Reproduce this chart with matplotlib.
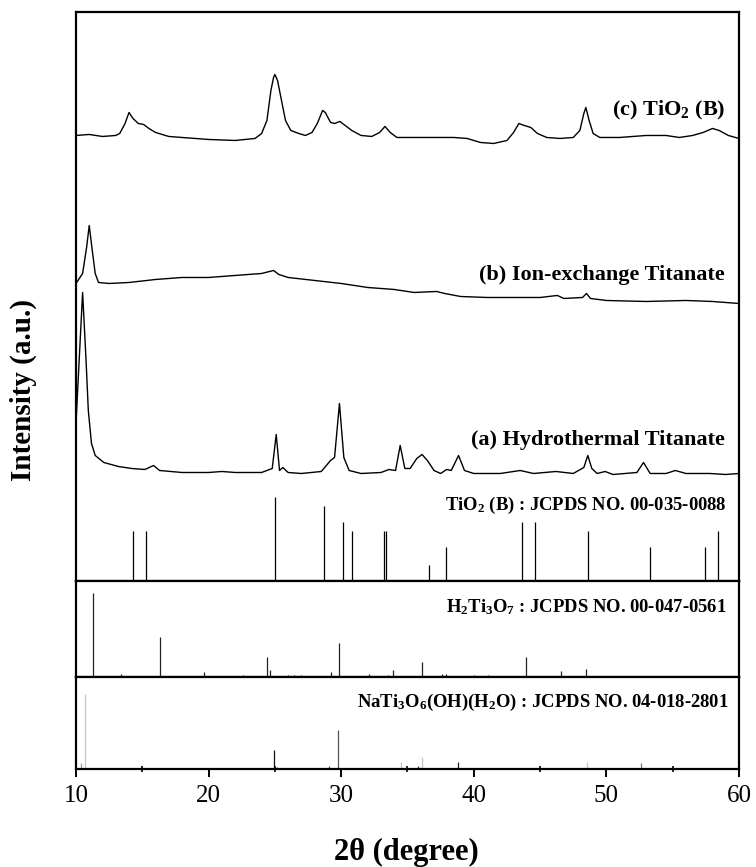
import matplotlib
matplotlib.use("Agg")
import matplotlib.pyplot as plt

plt.rcParams['font.family'] = ['Liberation Serif', 'DejaVu Serif']
plt.rcParams['mathtext.fontset'] = 'custom'
plt.rcParams['mathtext.rm'] = 'Liberation Serif:bold'
plt.rcParams['mathtext.bf'] = 'Liberation Serif:bold'
plt.rcParams['mathtext.default'] = 'bf'

# measured curves: 2theta and intensity (offset already included, a.u.)
tio2_b_x = [10.0, 11.0, 12.0, 13.0, 13.3, 13.7, 14.0, 14.3, 14.7, 15.1, 15.5, 16.0, 17.0, 18.0,
            20.0, 22.0, 23.5, 24.0, 24.4, 24.7, 24.9, 25.0, 25.2, 25.5, 25.8, 26.2, 26.8, 27.3,
            27.8, 28.2, 28.6, 28.8, 29.2, 29.5, 29.9, 30.3, 30.8, 31.5, 32.3, 32.9, 33.3, 33.7,
            34.2, 35.5, 37.0, 38.5, 39.5, 40.5, 41.5, 42.5, 43.0, 43.4, 43.8, 44.3, 44.8, 45.5,
            46.5, 47.5, 48.0, 48.3, 48.45, 48.7, 49.0, 49.5, 51.0, 53.0, 54.5, 55.5, 56.5, 57.3,
            58.0, 58.5, 59.2, 60.0]
tio2_b_y = [446, 447, 445, 446, 448, 458, 469, 463, 458, 457, 453, 449, 445, 444,
            442, 441, 443, 448, 461, 491, 504, 507, 501, 481, 461, 451, 448, 446,
            449, 458, 471, 469, 459, 458, 460, 456, 451, 446, 445, 449, 455, 449,
            444, 444, 444, 444, 443, 439, 438, 441, 449, 458, 456, 454, 448, 444,
            443, 444, 451, 468, 474, 461, 448, 444, 444, 446, 446, 444, 446, 449,
            453, 451, 446, 443]

ion_x = [10.0, 10.5, 10.8, 11.0, 11.2, 11.45, 11.7, 12.5, 14.0, 16.0, 18.0, 20.0, 22.0, 24.0,
         24.9, 25.3, 26.0, 28.0, 30.0, 32.0, 34.0, 35.5, 37.2, 37.8, 39.0, 41.0, 43.0, 45.0,
         46.3, 46.8, 48.2, 48.5, 48.8, 50.0, 53.0, 56.0, 58.0, 60.0]
ion_y = [298, 308, 334, 356, 334, 308, 299, 298, 299, 302, 304, 304, 306, 308,
         311, 307, 304, 301, 298, 294, 292, 289, 290, 288, 285, 284, 284, 284,
         286, 283, 284, 288, 283, 281, 280, 281, 280, 278]

hydro_x = [10.0, 10.24, 10.5, 10.76, 10.93, 11.17, 11.45, 12.1, 13.2, 14.2, 15.2, 15.85, 16.3,
           18.0, 20.0, 21.0, 22.0, 24.0, 24.8, 25.1, 25.35, 25.6, 26.0, 27.0, 28.5, 29.2,
           29.5, 29.87, 30.2, 30.6, 31.5, 33.0, 33.6, 34.1, 34.45, 34.8, 35.2, 35.7, 36.1,
           36.5, 37.0, 37.5, 37.95, 38.3, 38.85, 39.3, 40.0, 42.0, 43.5, 44.5, 46.2, 47.5,
           48.3, 48.6, 48.9, 49.3, 49.9, 50.5, 52.3, 52.8, 53.3, 54.5, 55.2, 56.0, 57.8,
           59.0, 60.0]
hydro_y = [158, 221, 289, 221, 171, 138, 126, 119, 115, 113, 112, 116, 111,
           109, 109, 110, 109, 109, 113, 147, 111, 114, 109, 108, 110, 121,
           124, 178, 124, 111, 108, 109, 112, 111, 136, 113, 113, 123, 127,
           121, 111, 108, 112, 111, 126, 111, 108, 108, 111, 108, 110, 108,
           114, 126, 113, 108, 110, 107, 109, 119, 108, 108, 111, 108, 108,
           107, 108]

# reference patterns: positions and stick heights
tio2_ref_pos = [14.3, 15.3, 25.0, 28.7, 30.1, 30.8, 33.25, 33.4, 36.6, 37.9, 43.6, 44.6, 48.6,
                53.3, 57.4, 58.4]
tio2_ref_int = [50, 50, 84, 75, 59, 50, 50, 50, 16, 34, 59, 59, 50, 34, 34, 50]

h2ti3o7_pos = [11.27, 13.4, 16.37, 19.64, 22.6, 24.43, 24.64, 25.98, 26.46, 26.94, 29.25, 29.8,
               32.1, 33.55, 33.93, 36.1, 37.6, 37.9, 40.0, 41.06, 43.95, 46.57, 48.43]
h2ti3o7_int = [84, 3, 40, 5, 2, 20, 7, 2, 2.5, 2, 5, 34, 3, 2, 7, 15, 3, 3, 2, 2, 20, 6, 8.5]

nati_pos = [10.35, 10.65, 21.1, 21.5, 24.9, 25.15, 29.08, 29.77, 32.7, 34.52, 35.8, 36.1,
            37.8, 38.82, 45.7, 48.53, 52.63]
nati_int = [6, 76, 1.5, 1.5, 19, 2, 3, 39, 1.5, 7, 3, 12, 1.5, 7, 1.5, 7, 6]
nati_colors = ['#999999', '#c4c4c4', '#555555', '#555555', '#111111', '#555555', '#444444',
               '#555555', '#777777', '#c4c4c4', '#333333', '#c4c4c4', '#777777', '#222222',
               '#777777', '#c4c4c4', '#777777']

curve_labels = ['(a) Hydrothermal Titanate', '(b) Ion-exchange Titanate', '(c) TiO$_2$ (B)']
ref_labels = ['TiO$_2$ (B) : JCPDS NO. 00-035-0088',
              'H$_2$Ti$_3$O$_7$ : JCPDS NO. 00-047-0561',
              'NaTi$_3$O$_6$(OH)(H$_2$O) : JCPDS NO. 04-018-2801']

fig = plt.figure(figsize=(7.56, 8.67), dpi=100)
left, width = 0.1005, 0.877
ax1 = fig.add_axes([left, 0.3293, width, 0.6569])
ax2 = fig.add_axes([left, 0.2191, width, 0.1102])
ax3 = fig.add_axes([left, 0.1125, width, 0.1066])

ax1.plot(hydro_x, hydro_y, color='black', lw=1.0)
ax1.plot(ion_x, ion_y, color='black', lw=1.0)
ax1.plot(tio2_b_x, tio2_b_y, color='black', lw=1.0)
ax1.vlines(tio2_ref_pos, 0, tio2_ref_int, color='black', lw=0.9)
ax1.set_ylim(0, 569.5)

ax1.text(58.9, 141, curve_labels[0], ha='right', va='center', fontsize=16, fontweight='bold')
ax1.text(58.9, 306, curve_labels[1], ha='right', va='center', fontsize=16, fontweight='bold')
ax1.text(59.0, 471, curve_labels[2], ha='right', va='center', fontsize=16, fontweight='bold')
ax1.text(59.1, 76, ref_labels[0], ha='right', va='center', fontsize=13.4, fontweight='bold')

ax2.vlines(h2ti3o7_pos, 0, h2ti3o7_int, color='#222222', lw=0.9)
ax2.set_ylim(0, 95.5)
ax2.text(59.1, 70, ref_labels[1], ha='right', va='center', fontsize=13.4, fontweight='bold')

ax3.vlines(nati_pos, 0, nati_int, colors=nati_colors, lw=0.9)
ax3.set_ylim(0, 92.5)
ax3.text(59.2, 67, ref_labels[2], ha='right', va='center', fontsize=13.4, fontweight='bold')

for ax in (ax1, ax2, ax3):
    ax.set_xlim(10, 60)
    ax.set_yticks([])
    for s in ax.spines.values():
        s.set_linewidth(1.6)
for ax in (ax1, ax2):
    ax.set_xticks([])

ax3.set_xticks([10, 20, 30, 40, 50, 60])
ax3.set_xticks([15, 25, 35, 45, 55], minor=True)
ax3.tick_params(axis='x', which='major', direction='out', length=6, width=1.4, pad=5, labelsize=18)
ax3.tick_params(axis='x', which='minor', direction='inout', length=5, width=1.2)

fig.text(0.538, 0.0165, '2θ (degree)', ha='center', va='center', fontsize=22, fontweight='bold')
fig.text(0.031, 0.55, 'Intensity (a.u.)', ha='center', va='center', rotation=90,
         fontsize=21, fontweight='bold')

fig.savefig('out.png', dpi=100)
